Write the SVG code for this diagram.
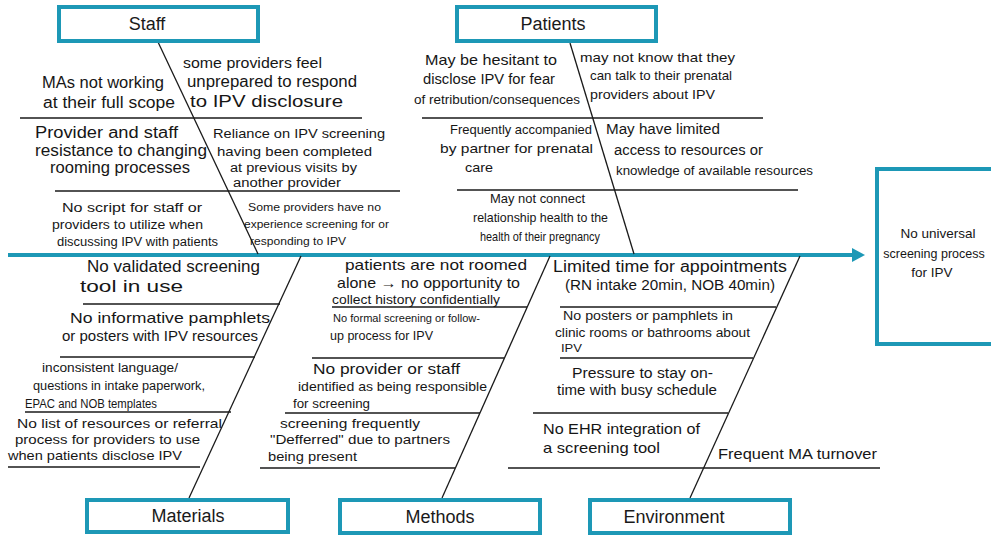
<svg xmlns="http://www.w3.org/2000/svg" width="991" height="537" viewBox="0 0 991 537">
<style>
.box{fill:#fff;stroke:#1d98b6;stroke-width:4}
.lbl{font-family:"Liberation Sans",Arial,sans-serif;font-size:18px;fill:#1a1a1a;text-anchor:middle}
.t{font-family:"Liberation Sans",Arial,sans-serif;fill:#161616}
.ln{stroke:#1a1a1a;stroke-width:1.3;fill:none}
.sp{stroke:#1d98b6;stroke-width:4;fill:none}
</style>
<rect width="991" height="537" fill="#fff"/>
<g id="connectors">
<line class="sp" x1="8" y1="255" x2="854" y2="255"/>
<polygon points="852,248 865,255 852,262" fill="#1d98b6"/>
<line class="ln" x1="158" y1="42" x2="258" y2="254"/>
<line class="ln" x1="570" y1="43" x2="634" y2="254"/>
<line class="ln" x1="301" y1="256" x2="189" y2="498"/>
<line class="ln" x1="550" y1="256" x2="442" y2="498"/>
<line class="ln" x1="800" y1="256" x2="690" y2="498"/>
<line class="ln" x1="20" y1="118" x2="362" y2="118"/>
<line class="ln" x1="55" y1="191" x2="400" y2="191"/>
<line class="ln" x1="422" y1="118" x2="763" y2="118"/>
<line class="ln" x1="457" y1="190" x2="798" y2="190"/>
<line class="ln" x1="83" y1="304" x2="280" y2="304"/>
<line class="ln" x1="60" y1="357" x2="255" y2="357"/>
<line class="ln" x1="25" y1="412" x2="231" y2="412"/>
<line class="ln" x1="8" y1="467" x2="200" y2="467"/>
<line class="ln" x1="332" y1="307" x2="527" y2="307"/>
<line class="ln" x1="312" y1="358" x2="504" y2="358"/>
<line class="ln" x1="285" y1="413" x2="480" y2="413"/>
<line class="ln" x1="260" y1="468" x2="455" y2="468"/>
<line class="ln" x1="560" y1="307" x2="776" y2="307"/>
<line class="ln" x1="560" y1="358" x2="753" y2="358"/>
<line class="ln" x1="533" y1="413" x2="728" y2="413"/>
<line class="ln" x1="508" y1="468" x2="880" y2="468"/>
</g>
<g id="staff"><rect class="box" x="59" y="7" width="199" height="34"/><text class="lbl" x="147" y="30">Staff</text></g>
<g id="patients"><rect class="box" x="457" y="7" width="199" height="34"/><text class="lbl" x="553" y="30">Patients</text></g>
<g id="materials"><rect class="box" x="87" y="500" width="201" height="32"/><text class="lbl" x="188" y="522">Materials</text></g>
<g id="methods"><rect class="box" x="340" y="500" width="200" height="33"/><text class="lbl" x="440" y="523">Methods</text></g>
<g id="environment"><rect class="box" x="590" y="500" width="200" height="33"/><text class="lbl" x="674" y="523">Environment</text></g>
<g id="outcome"><path class="box" d="M991,169 H877 V344 H991"/>
<text class="t" font-size="13.5" text-anchor="middle" x="938" y="238">No universal</text>
<text class="t" font-size="12.5" text-anchor="middle" x="934" y="258">screening process</text>
<text class="t" font-size="13.5" text-anchor="middle" x="932" y="277">for IPV</text></g>
<g id="staff-causes" class="t">
<text font-size="16" x="42" y="88" textLength="122" lengthAdjust="spacingAndGlyphs">MAs not working</text>
<text font-size="16" x="43" y="108" textLength="132" lengthAdjust="spacingAndGlyphs">at their full scope</text>
<text font-size="14" x="183" y="68" textLength="139" lengthAdjust="spacingAndGlyphs">some providers feel</text>
<text font-size="16" x="187" y="87" textLength="170" lengthAdjust="spacingAndGlyphs">unprepared to respond</text>
<text font-size="16" x="190" y="107" textLength="153" lengthAdjust="spacingAndGlyphs">to IPV disclosure</text>
<text font-size="16" x="35" y="138" textLength="143" lengthAdjust="spacingAndGlyphs">Provider and staff</text>
<text font-size="16" x="35" y="156" textLength="172" lengthAdjust="spacingAndGlyphs">resistance to changing</text>
<text font-size="16" x="50" y="173" textLength="140" lengthAdjust="spacingAndGlyphs">rooming processes</text>
<text font-size="13" x="213" y="138" textLength="172" lengthAdjust="spacingAndGlyphs">Reliance on IPV screening</text>
<text font-size="13" x="217" y="156" textLength="155" lengthAdjust="spacingAndGlyphs">having been completed</text>
<text font-size="12" x="230" y="172" textLength="127" lengthAdjust="spacingAndGlyphs">at previous visits by</text>
<text font-size="12" x="233" y="187" textLength="108" lengthAdjust="spacingAndGlyphs">another provider</text>
<text font-size="12" x="62" y="212" textLength="140" lengthAdjust="spacingAndGlyphs">No script for staff or</text>
<text font-size="12" x="52" y="229" textLength="151" lengthAdjust="spacingAndGlyphs">providers to utilize when</text>
<text font-size="12" x="57" y="246" textLength="161" lengthAdjust="spacingAndGlyphs">discussing IPV with patients</text>
<text font-size="11.5" x="248" y="211" textLength="133" lengthAdjust="spacingAndGlyphs">Some providers have no</text>
<text font-size="11.5" x="244" y="228" textLength="145" lengthAdjust="spacingAndGlyphs">experience screening for or</text>
<text font-size="11.5" x="250" y="245" textLength="96" lengthAdjust="spacingAndGlyphs">responding to IPV</text>
</g>
<g id="patients-causes" class="t">
<text font-size="14.5" x="425" y="65" textLength="132" lengthAdjust="spacingAndGlyphs">May be hesitant to</text>
<text font-size="14" x="423" y="84" textLength="132" lengthAdjust="spacingAndGlyphs">disclose IPV for fear</text>
<text font-size="13" x="414" y="104" textLength="166" lengthAdjust="spacingAndGlyphs">of retribution/consequences</text>
<text font-size="13" x="580" y="62" textLength="155" lengthAdjust="spacingAndGlyphs">may not know that they</text>
<text font-size="13" x="590" y="80" textLength="142" lengthAdjust="spacingAndGlyphs">can talk to their prenatal</text>
<text font-size="13" x="590" y="99" textLength="125" lengthAdjust="spacingAndGlyphs">providers about IPV</text>
<text font-size="13" x="450" y="134" textLength="142" lengthAdjust="spacingAndGlyphs">Frequently accompanied</text>
<text font-size="13" x="440" y="153" textLength="153" lengthAdjust="spacingAndGlyphs">by partner for prenatal</text>
<text font-size="13" x="465" y="172" textLength="28" lengthAdjust="spacingAndGlyphs">care</text>
<text font-size="14" x="606" y="134" textLength="114" lengthAdjust="spacingAndGlyphs">May have limited</text>
<text font-size="14" x="614" y="155" textLength="149" lengthAdjust="spacingAndGlyphs">access to resources or</text>
<text font-size="13.5" x="616" y="175" textLength="197" lengthAdjust="spacingAndGlyphs">knowledge of available resources</text>
<text font-size="13" x="490" y="203" textLength="95" lengthAdjust="spacingAndGlyphs">May not connect</text>
<text font-size="13" x="473" y="222" textLength="135" lengthAdjust="spacingAndGlyphs">relationship health to the</text>
<text font-size="13" x="480" y="241" textLength="120" lengthAdjust="spacingAndGlyphs">health of their pregnancy</text>
</g>
<g id="materials-causes" class="t">
<text font-size="16" x="87" y="272" textLength="173" lengthAdjust="spacingAndGlyphs">No validated screening</text>
<text font-size="16" x="80" y="292" textLength="103" lengthAdjust="spacingAndGlyphs">tool in use</text>
<text font-size="15" x="70" y="323" textLength="200" lengthAdjust="spacingAndGlyphs">No informative pamphlets</text>
<text font-size="15" x="62" y="341" textLength="196" lengthAdjust="spacingAndGlyphs">or posters with IPV resources</text>
<text font-size="12.5" x="42" y="372" textLength="136" lengthAdjust="spacingAndGlyphs">inconsistent language/</text>
<text font-size="12.5" x="33" y="390" textLength="172" lengthAdjust="spacingAndGlyphs">questions in intake paperwork,</text>
<text font-size="12.5" x="25" y="408" textLength="132" lengthAdjust="spacingAndGlyphs">EPAC and NOB templates</text>
<text font-size="13" x="17" y="428" textLength="205" lengthAdjust="spacingAndGlyphs">No list of resources or referral</text>
<text font-size="13" x="15" y="444" textLength="185" lengthAdjust="spacingAndGlyphs">process for providers to use</text>
<text font-size="13" x="8" y="460" textLength="174" lengthAdjust="spacingAndGlyphs">when patients disclose IPV</text>
</g>
<g id="methods-causes" class="t">
<text font-size="15" x="345" y="270" textLength="182" lengthAdjust="spacingAndGlyphs">patients are not roomed</text>
<text font-size="15" x="337" y="288" textLength="183" lengthAdjust="spacingAndGlyphs">alone → no opportunity to</text>
<text font-size="12.5" x="332" y="304" textLength="168" lengthAdjust="spacingAndGlyphs">collect history confidentially</text>
<text font-size="11" x="333" y="322" textLength="147" lengthAdjust="spacingAndGlyphs">No formal screening or follow-</text>
<text font-size="12" x="330" y="340" textLength="103" lengthAdjust="spacingAndGlyphs">up process for IPV</text>
<text font-size="14" x="313" y="374" textLength="147" lengthAdjust="spacingAndGlyphs">No provider or staff</text>
<text font-size="13" x="298" y="391" textLength="189" lengthAdjust="spacingAndGlyphs">identified as being responsible</text>
<text font-size="13" x="293" y="408" textLength="77" lengthAdjust="spacingAndGlyphs">for screening</text>
<text font-size="13.5" x="280" y="428" textLength="140" lengthAdjust="spacingAndGlyphs">screening frequently</text>
<text font-size="13" x="270" y="444" textLength="180" lengthAdjust="spacingAndGlyphs">"Defferred" due to partners</text>
<text font-size="13.5" x="268" y="461" textLength="89" lengthAdjust="spacingAndGlyphs">being present</text>
</g>
<g id="environment-causes" class="t">
<text font-size="16" x="553" y="272" textLength="234" lengthAdjust="spacingAndGlyphs">Limited time for appointments</text>
<text font-size="14" x="565" y="290" textLength="210" lengthAdjust="spacingAndGlyphs">(RN intake 20min, NOB 40min)</text>
<text font-size="12.5" x="563" y="320" textLength="170" lengthAdjust="spacingAndGlyphs">No posters or pamphlets in</text>
<text font-size="12.5" x="555" y="337" textLength="195" lengthAdjust="spacingAndGlyphs">clinic rooms or bathrooms about</text>
<text font-size="11" x="561" y="352" textLength="21" lengthAdjust="spacingAndGlyphs">IPV</text>
<text font-size="14" x="572" y="378" textLength="141" lengthAdjust="spacingAndGlyphs">Pressure to stay on-</text>
<text font-size="14" x="557" y="395" textLength="160" lengthAdjust="spacingAndGlyphs">time with busy schedule</text>
<text font-size="14.5" x="543" y="434" textLength="157" lengthAdjust="spacingAndGlyphs">No EHR integration of</text>
<text font-size="14.5" x="543" y="453" textLength="117" lengthAdjust="spacingAndGlyphs">a screening tool</text>
<text font-size="15" x="718" y="459" textLength="159" lengthAdjust="spacingAndGlyphs">Frequent MA turnover</text>
</g>
</svg>
